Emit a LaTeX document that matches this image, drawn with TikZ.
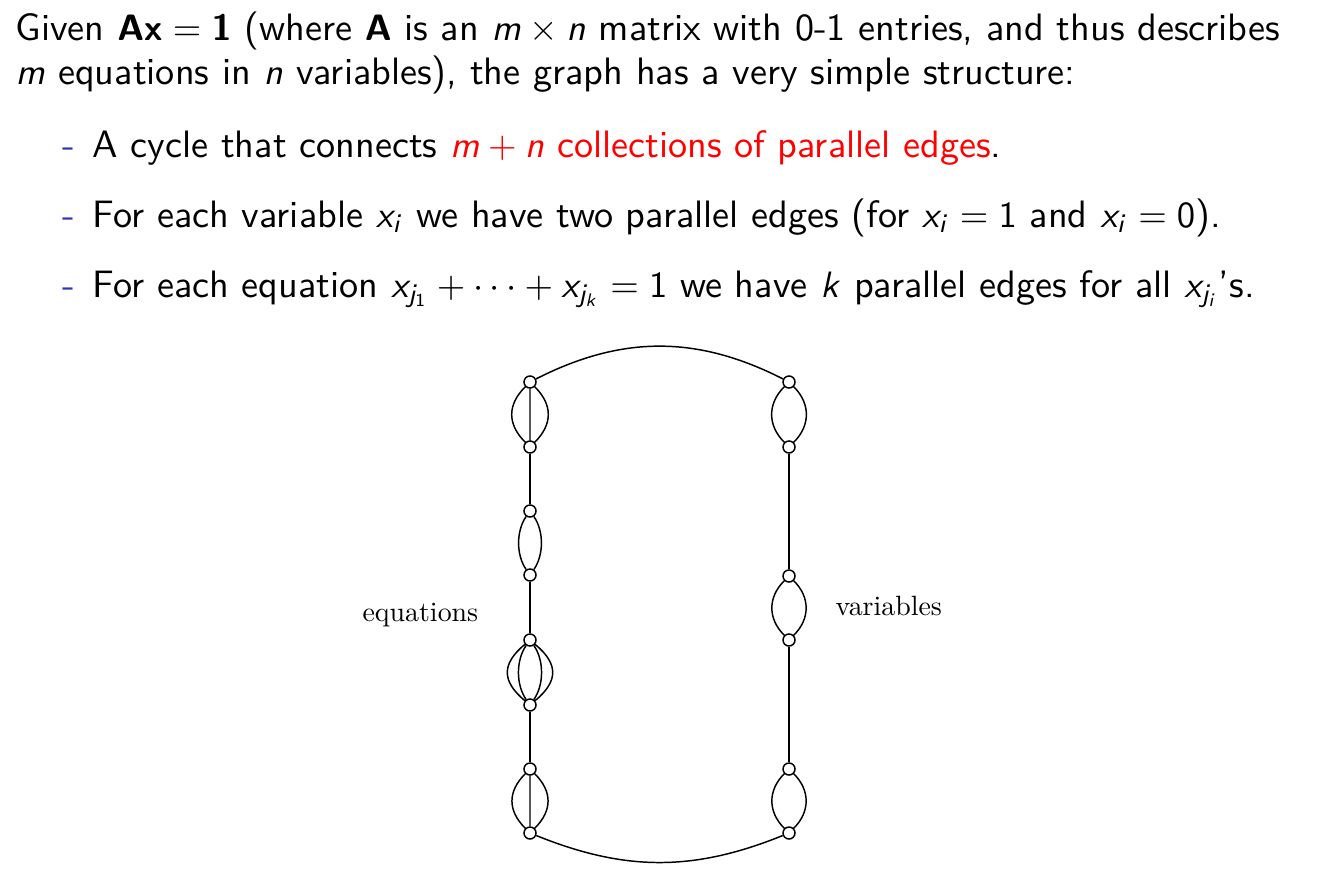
\documentclass[tikz,border=0pt]{standalone}
\usepackage{amsmath}
\usepackage{amssymb}
\usepackage{xcolor}
\usetikzlibrary{positioning}
% sans serif math, as on the slide
\DeclareMathVersion{sans}
\SetSymbolFont{operators}{sans}{OT1}{cmss}{m}{n}
\SetSymbolFont{letters}{sans}{OT1}{cmss}{m}{it}
\SetSymbolFont{symbols}{sans}{OMS}{cmsy}{m}{n}
\SetMathAlphabet{\mathbf}{sans}{OT1}{cmss}{bx}{n}
\definecolor{structblue}{RGB}{51,51,179}
\tikzset{
  lobeL/.style={out=#1-180,in=180-#1},
  lobeR/.style={out=-#1,in=#1}
}
\begin{document}
\begin{tikzpicture}[x=0.09574mm,y=0.09574mm,
  slide/.style={anchor=base west,inner sep=0pt,font=\fontsize{10.4}{13}\sffamily\mathversion{sans}},
  bulletmark/.style={anchor=base west,inner sep=0pt,text=structblue,font=\fontsize{10.4}{13}\sffamily},
  vtx/.style={circle,draw,fill=white,inner sep=0pt,minimum size=1.15mm},
  lbl/.style={inner sep=0pt,font=\fontsize{10}{12}\selectfont,scale=0.76,transform shape}]
\useasboundingbox (0,0) rectangle (1337,-885);
% text of the slide
\node[slide] (intro1) at (15,-40) {Given $\mathbf{Ax}=\mathbf{1}$ (where $\mathbf{A}$ is an $m\times n$ matrix with 0-1 entries, and thus describes};
\node[slide] (intro2) at (15,-85) {$m$ equations in $n$ variables), the graph has a very simple structure:};
\node[bulletmark] (d1) at (62,-157) {-};
\node[slide] (item1) at (92,-157) {A cycle that connects \textcolor{red}{$m+n$ collections of parallel edges}.};
\node[bulletmark] (d2) at (62,-227) {-};
\node[slide] (item2) at (92,-227) {For each variable $x_i$ we have two parallel edges (for $x_i=1$ and $x_i=0$).};
\node[bulletmark] (d3) at (62,-297) {-};
\node[slide] (item3) at (92,-297) {For each equation $x_{j_1}+\cdots+x_{j_k}=1$ we have $k$ parallel edges for all $x_{j_i}$'s.};
% vertices
\foreach \n/\y in {1/382,2/447,3/511,4/575,5/640,6/705,7/769,8/833}
  \node[vtx] (e\n) at (530,-\y) {};
\foreach \n/\y in {1/382,2/447,3/576,4/640,5/769,6/833}
  \node[vtx] (v\n) at (789,-\y) {};
% equations side
\draw (e1) -- (e2) (e1) to[lobeL=45,looseness=1.18] (e2) (e1) to[lobeR=45,looseness=1.18] (e2);
\draw (e2) -- (e3);
\draw (e3) to[lobeL=55,looseness=0.85] (e4) (e3) to[lobeR=55,looseness=0.85] (e4);
\draw (e4) -- (e5);
\draw (e5) to[lobeL=55,looseness=0.85] (e6) (e5) to[lobeR=55,looseness=0.85] (e6)
      (e5) to[lobeL=40,looseness=1.39] (e6) (e5) to[lobeR=40,looseness=1.39] (e6);
\draw (e6) -- (e7);
\draw (e7) -- (e8) (e7) to[lobeL=45,looseness=1.18] (e8) (e7) to[lobeR=45,looseness=1.18] (e8);
% variables side
\draw (v1) to[lobeL=45,looseness=1.1] (v2) (v1) to[lobeR=45,looseness=1.1] (v2);
\draw (v2) -- (v3);
\draw (v3) to[lobeL=45,looseness=1.1] (v4) (v3) to[lobeR=45,looseness=1.1] (v4);
\draw (v4) -- (v5);
\draw (v5) to[lobeL=45,looseness=1.1] (v6) (v5) to[lobeR=45,looseness=1.1] (v6);
% closing the cycle
\draw (e1) to[bend left=27] (v1);
\draw (e8) to[bend right=22] (v6);
% labels
\node[lbl,anchor=base west] (eqlbl) at (362,-621) {equations};
\node[lbl,anchor=base west] (varlbl) at (835,-615) {variables};
\end{tikzpicture}
\end{document}
